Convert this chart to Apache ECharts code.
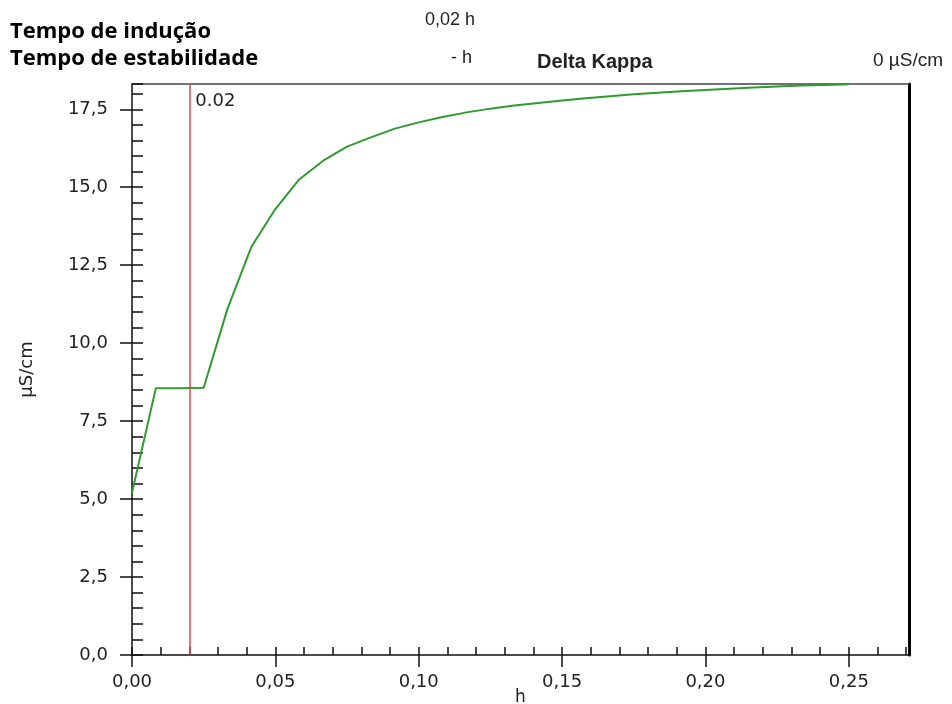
<!DOCTYPE html>
<html>
<head>
<meta charset="utf-8">
<title>Delta Kappa</title>
<script src="https://cdn.jsdelivr.net/npm/echarts@6/dist/echarts.min.js"></script>
<style>
  html, body { margin: 0; padding: 0; background: #fff; }
  #main { width: 952px; height: 704px; }
</style>
</head>
<body>
<div id="main"></div>
<script>
// tempo (h) e condutividade (µS/cm)
var horas = [0, 0.0083, 0.0167, 0.025, 0.0333, 0.0417, 0.05, 0.0583, 0.0667, 0.075,
  0.0833, 0.0917, 0.1, 0.1083, 0.1167, 0.125, 0.1333, 0.1417, 0.15, 0.1583,
  0.1667, 0.175, 0.1833, 0.1917, 0.2, 0.2083, 0.2167, 0.225, 0.2333, 0.2417, 0.25];
var kappa = [5.2, 8.55, 8.55, 8.57, 11.1, 13.1, 14.3, 15.25, 15.85, 16.3,
  16.6, 16.88, 17.08, 17.25, 17.4, 17.52, 17.62, 17.7, 17.78, 17.85,
  17.92, 17.98, 18.03, 18.08, 18.12, 18.16, 18.2, 18.23, 18.26, 18.28, 18.3];
var ticksX = [0, 0.05, 0.1, 0.15, 0.2, 0.25];
var ticksY = [0, 2.5, 5, 7.5, 10, 12.5, 15, 17.5];
var tempoInducao = 0.02;

var xMax = 0.271, yMax = 18.31;
var fonte = 'DejaVu Sans';

var serie = [];
for (var i = 0; i < horas.length; i++) serie.push([horas[i], kappa[i]]);

var myChart = echarts.init(document.getElementById('main'));
var option = {
    animation: false,
    grid: { left: 132, top: 84, right: 43, bottom: 49, show: false, containLabel: false, outerBoundsMode: 'none' },
    graphic: [
        { type: 'text', left: 10, top: 21, style: { text: 'Tempo de indução', font: 'bold 22px "Open Sans"', fill: '#000' } },
        { type: 'text', left: 10, top: 48, style: { text: 'Tempo de estabilidade', font: 'bold 22px "Open Sans"', fill: '#000' } },
        { type: 'text', left: 425, top: 11, style: { text: '0,02 h', font: '18px "Liberation Sans"', fill: '#222' } },
        { type: 'text', left: 451, top: 49, style: { text: '- h', font: '18px "Liberation Sans"', fill: '#222' } },
        { type: 'text', left: 537, top: 52, style: { text: 'Delta Kappa', font: 'bold 20px "Liberation Sans"', fill: '#222' } },
        { type: 'text', left: 873, top: 51, style: { text: '0 µS/cm', font: '19px "Liberation Sans"', fill: '#222' } }
    ],
    xAxis: [{
        type: 'value', position: 'bottom', min: 0, max: xMax,
        name: 'h', nameLocation: 'middle', nameGap: 34, nameMoveOverlap: false,
        nameTextStyle: { fontFamily: fonte, fontSize: 17, color: '#222' },
        splitLine: { show: false },
        axisLine: { onZero: false, lineStyle: { color: '#111', width: 1.5 } },
        axisTick: { inside: false, length: 12, customValues: ticksX, lineStyle: { color: '#111', width: 1.5 } },
        axisLabel: {
            customValues: ticksX, margin: 18, color: '#222', fontFamily: fonte, fontSize: 18,
            formatter: function (v) { return v.toFixed(2).replace('.', ','); }
        }
    }, {
        type: 'value', position: 'bottom', min: 0, max: xMax, interval: 0.01,
        splitLine: { show: false }, axisLabel: { show: false },
        axisLine: { show: false, onZero: false },
        axisTick: { inside: true, length: 8, lineStyle: { color: '#111', width: 1.5 } }
    }, {
        type: 'value', position: 'top', min: 0, max: xMax,
        splitLine: { show: false }, axisTick: { show: false }, axisLabel: { show: false },
        axisLine: { onZero: false, lineStyle: { color: '#444', width: 1.5 } }
    }],
    yAxis: [{
        type: 'value', position: 'left', min: 0, max: yMax,
        name: 'µS/cm', nameLocation: 'middle', nameGap: 96, nameMoveOverlap: false,
        nameTextStyle: { fontFamily: fonte, fontSize: 18, color: '#222' },
        splitLine: { show: false },
        axisLine: { onZero: false, lineStyle: { color: '#111', width: 1.5 } },
        axisTick: { inside: false, length: 12, customValues: ticksY, lineStyle: { color: '#111', width: 1.5 } },
        axisLabel: {
            customValues: ticksY, margin: 24, color: '#222', fontFamily: fonte, fontSize: 18,
            formatter: function (v) { return v.toFixed(1).replace('.', ','); }
        }
    }, {
        type: 'value', position: 'left', min: 0, max: yMax, interval: 0.5,
        splitLine: { show: false }, axisLabel: { show: false },
        axisLine: { show: false, onZero: false },
        axisTick: { inside: true, length: 11, lineStyle: { color: '#111', width: 1.5 } }
    }, {
        type: 'value', position: 'right', min: 0, max: yMax,
        splitLine: { show: false }, axisTick: { show: false }, axisLabel: { show: false },
        axisLine: { onZero: false, lineStyle: { color: '#000', width: 3 } }
    }],
    series: [{
        type: 'line',
        xAxisIndex: 0,
        yAxisIndex: 0,
        data: serie,
        showSymbol: false,
        lineStyle: { color: '#2f9a2f', width: 2 },
        markLine: {
            silent: true,
            symbol: 'none',
            label: { show: false },
            lineStyle: { color: '#e0474c', width: 1.5, type: 'solid' },
            data: [{ xAxis: tempoInducao }]
        },
        markPoint: {
            symbol: 'circle',
            symbolSize: 0,
            label: {
                show: true, position: 'right', distance: 6,
                formatter: '0.02', color: '#222', fontFamily: fonte, fontSize: 18
            },
            data: [{ coord: [tempoInducao, 17.77] }]
        }
    }]
};
myChart.setOption(option);
window.addEventListener('resize', function () {
    myChart.resize();
});
</script>
</body>
</html>
